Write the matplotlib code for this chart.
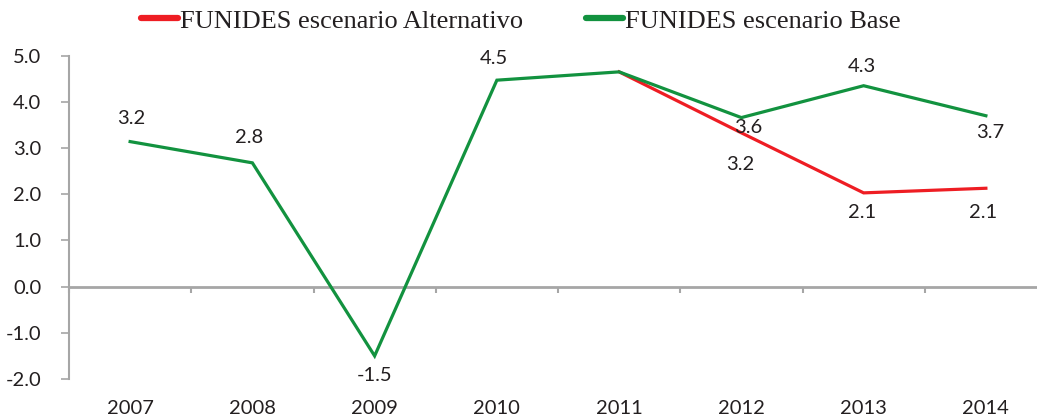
import matplotlib
matplotlib.use("Agg")
import matplotlib.pyplot as plt
import matplotlib.transforms as mtransforms
from matplotlib.lines import Line2D
import numpy as np

years = ["2007", "2008", "2009", "2010", "2011", "2012", "2013", "2014"]
base = [3.14, 2.68, -1.50, 4.47, 4.65, 3.66, 4.35, 3.70]
alt_years = ["2011", "2012", "2013", "2014"]
alt = [4.65, 3.33, 2.03, 2.13]

base_labels = ["3.2", "2.8", "-1.5", "4.5", None, "3.6", "4.3", "3.7"]
alt_labels = [None, "3.2", "2.1", "2.1"]
# label offsets in pixels (dx, dy)
base_off = [(1, 23), (-3, 25), (0, -20), (-3, 22), None, (7, -10), (-2, 19), (4, -17)]
alt_off = [None, (-1, -32), (-2, -20), (-3, -24)]

yticks = [-2.0, -1.0, 0.0, 1.0, 2.0, 3.0, 4.0, 5.0]

RED = "#EE1D23"
GREEN = "#12923F"
GRAY = "#A6A6A6"
TXT = "#231F20"

W, H = 1037, 416
fig = plt.figure(figsize=(W / 100, H / 100), dpi=100)
left = 69 / W
right = 1047 / W
bottom = 1 - 379 / H
top = 1 - 55.7 / H
ax = fig.add_axes([left, bottom, right - left, top - bottom])

x = np.arange(len(years))
xa = np.array([years.index(y) for y in alt_years])

ax.plot(xa, alt, color=RED, lw=2.3, solid_joinstyle="miter", zorder=3)
ax.plot(x, base, color=GREEN, lw=2.3, solid_joinstyle="miter", zorder=4)

lab_font = dict(family="Lato", size=14.5, color=TXT)
for xi, yi, lab, off in zip(x, base, base_labels, base_off):
    if lab:
        ax.annotate(lab, (xi, yi), xytext=off, textcoords="offset pixels",
                    ha="center", va="center", **lab_font)
for xi, yi, lab, off in zip(xa, alt, alt_labels, alt_off):
    if lab:
        ax.annotate(lab, (xi, yi), xytext=off, textcoords="offset pixels",
                    ha="center", va="center", **lab_font)

ax.set_xlim(-0.5, len(years) - 0.5)
ax.set_ylim(-2.0, 5.0)

for s in ["top", "right"]:
    ax.spines[s].set_visible(False)
ax.spines["left"].set_color(GRAY)
ax.spines["left"].set_linewidth(1.5)
ax.spines["bottom"].set_position(("data", 0))
ax.spines["bottom"].set_color(GRAY)
ax.spines["bottom"].set_linewidth(2)

ax.set_yticks(yticks)
ax.set_yticklabels([f"{v:.1f}" for v in yticks], fontfamily="Lato", fontsize=14.5, color=TXT)
ax.tick_params(axis="y", direction="out", length=6, width=1.2, color=GRAY, pad=14)

ax.set_xticks(np.arange(len(years) + 1) - 0.5)
ax.set_xticklabels([])
ax.tick_params(axis="x", direction="out", length=4.5, width=1.5, color=GRAY)

trans = mtransforms.blended_transform_factory(ax.transData, ax.transAxes)
trans = trans + mtransforms.ScaledTranslation(0, -21 / 100, fig.dpi_scale_trans)
for xi, yr in zip(x, years):
    ax.text(xi, 0, yr, transform=trans, ha="center", va="top",
            fontfamily="Lato", fontsize=14.5, color=TXT)

handles = [Line2D([], [], color=RED, lw=4.5, solid_capstyle="round"),
           Line2D([], [], color=GREEN, lw=4.5, solid_capstyle="round")]
fig.legend(handles, ["FUNIDES escenario Alternativo", "FUNIDES escenario Base"],
           loc="center", bbox_to_anchor=(521 / W, 1 - 21 / H), ncol=2, frameon=False,
           prop=dict(family="Liberation Serif", size=19), handlelength=1.4,
           handletextpad=0.08, columnspacing=2.4, labelcolor=TXT,
           borderpad=0.1)

fig.savefig("out.png", dpi=100)
